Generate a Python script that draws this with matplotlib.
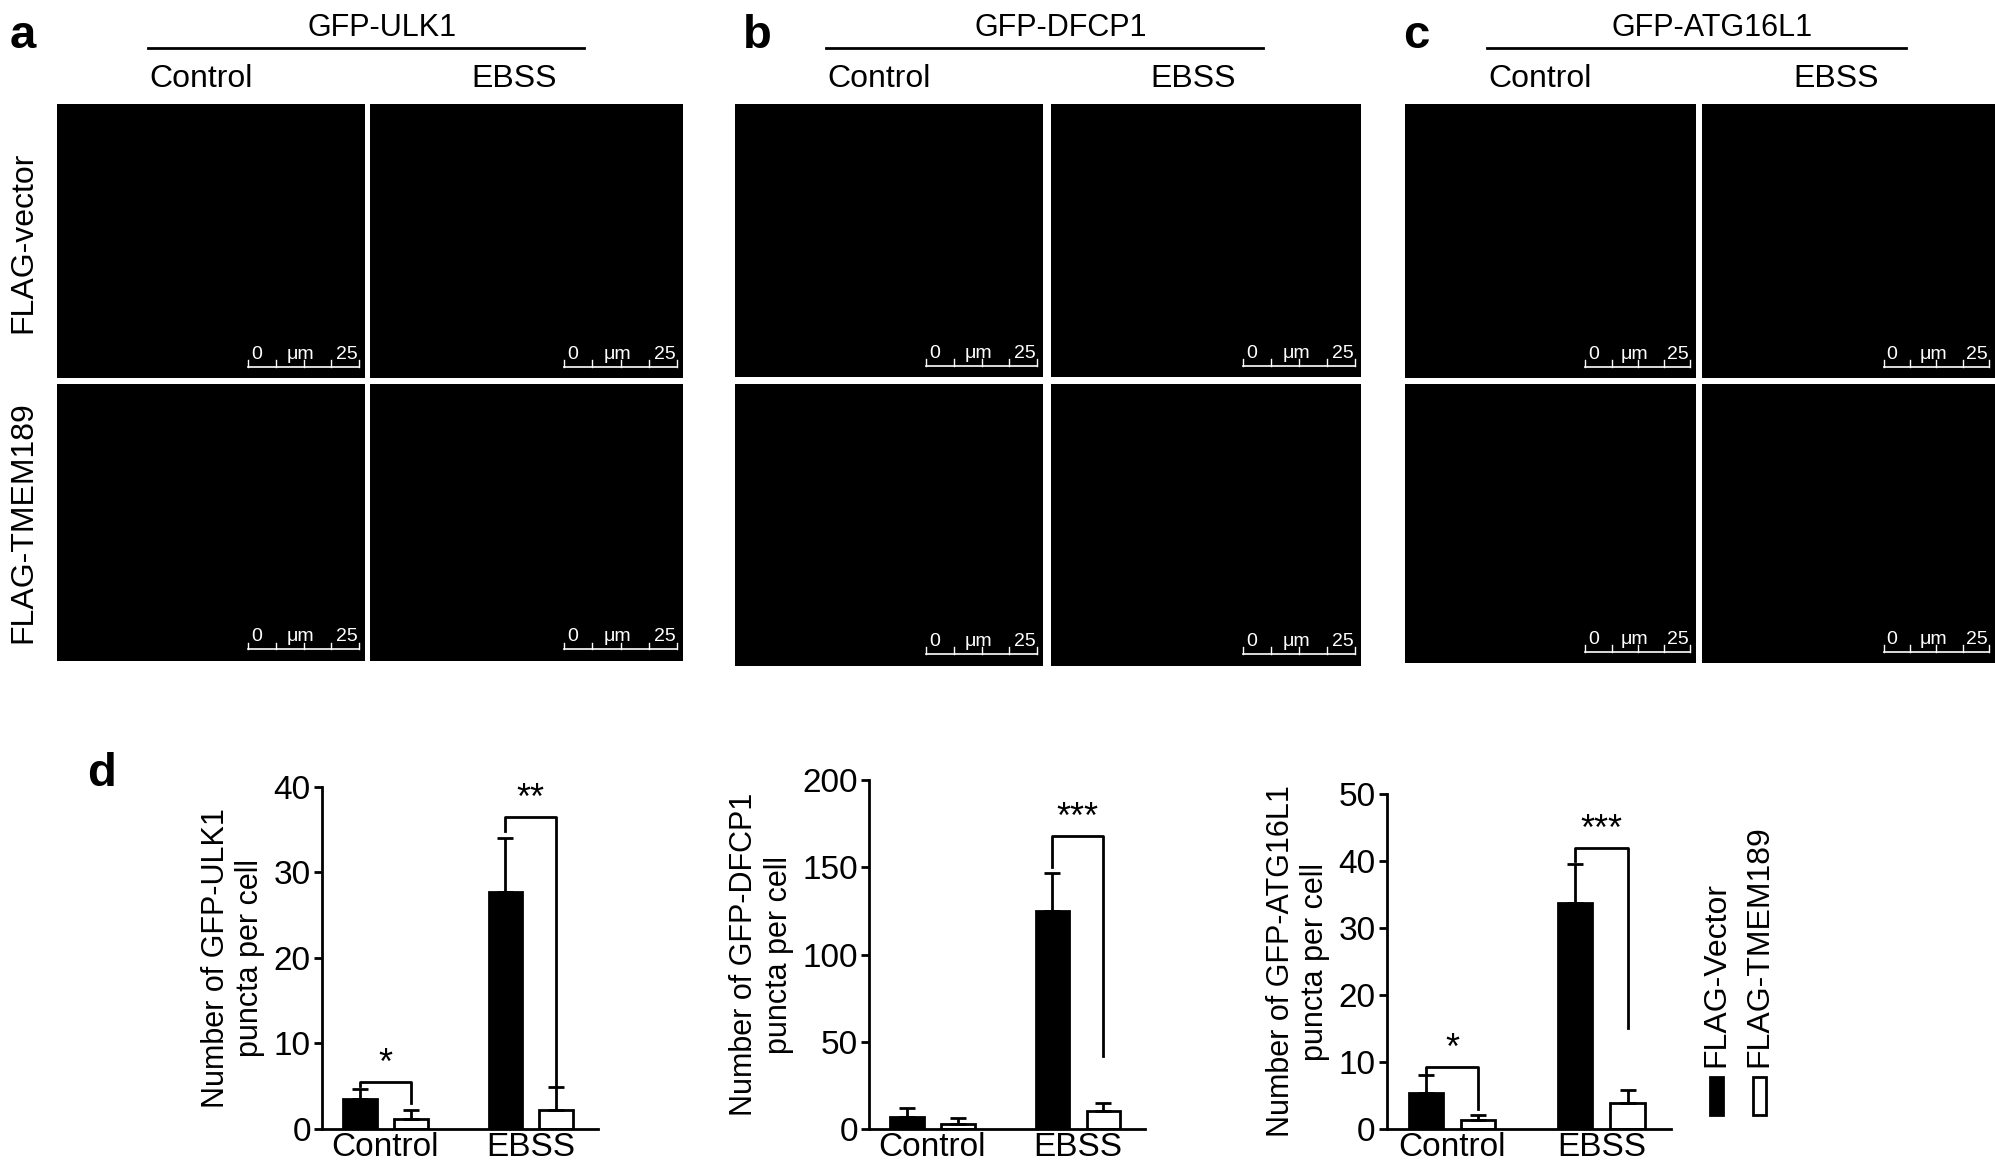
import matplotlib
matplotlib.use("Agg")
import matplotlib.pyplot as plt
from matplotlib.patches import Rectangle
import numpy as np

# data for panel d
groups = ["Control", "EBSS"]
ulk1_vec = [3.5, 27.7]
ulk1_vec_err = [1.2, 6.3]
ulk1_tm = [1.2, 2.2]
ulk1_tm_err = [1.0, 2.7]
dfcp1_vec = [7.0, 125.0]
dfcp1_vec_err = [5.0, 22.0]
dfcp1_tm = [3.0, 10.0]
dfcp1_tm_err = [3.0, 5.0]
atg_vec = [5.3, 33.8]
atg_vec_err = [2.7, 5.8]
atg_tm = [1.3, 3.8]
atg_tm_err = [0.8, 2.0]

W, H = 1568, 924  # layout reference units
fig = plt.figure(figsize=(19.95, 11.76), dpi=100)
plt.rcParams['font.family'] = ['Liberation Sans', 'DejaVu Sans']
narrow = ['Liberation Sans Narrow', 'Liberation Sans', 'DejaVu Sans']


def fx(x):
    return x / W


def fy(y):
    return 1 - y / H


def box(x0, y0, x1, y1):
    return [fx(x0), fy(y1), fx(x1 - x0), (y1 - y0) / H]


# microscopy panels (placeholders: black fields with scale bars)
panels = {
    "a": ([(45, 287), (291, 537)], [(82, 297), (302, 519)], "GFP-ULK1"),
    "b": ([(578, 820), (826, 1070)], [(82, 296), (302, 523)], "GFP-DFCP1"),
    "c": ([(1104, 1333), (1338, 1568)], [(82, 297), (302, 521)], "GFP-ATG16L1"),
}
letter_x = {"a": 18, "b": 595, "c": 1113}
for key, (cols, rows, title) in panels.items():
    for (x0, x1) in cols:
        for (y0, y1) in rows:
            ax = fig.add_axes(box(x0, y0, x1, y1))
            ax.set_facecolor("black")
            ax.set_xticks([]); ax.set_yticks([])
            for s in ax.spines.values():
                s.set_visible(False)
            # scale bar
            ax.plot([0.62, 0.98], [0.04, 0.04], color="white", lw=1.2, transform=ax.transAxes)
            for t in np.linspace(0.62, 0.98, 5):
                ax.plot([t, t], [0.04, 0.065], color="white", lw=1, transform=ax.transAxes)
            ax.text(0.63, 0.07, "0", color="white", fontsize=14, transform=ax.transAxes, family=narrow)
            ax.text(0.79, 0.07, "μm", color="white", fontsize=14, ha="center", transform=ax.transAxes, family=narrow)
            ax.text(0.975, 0.07, "25", color="white", fontsize=14, ha="right", transform=ax.transAxes, family=narrow)
    cx0 = (cols[0][0] + cols[0][1]) / 2
    cx1 = (cols[1][0] + cols[1][1]) / 2
    fig.text(fx((cx0 + cx1) / 2 + 10), fy(22), title, fontsize=22, ha="center", va="center")
    fig.add_artist(plt.Line2D([fx(cx0 - 50), fx(cx1 + 45)], [fy(38), fy(38)], color="black", lw=2))
    fig.text(fx(cx0 - 8), fy(62), "Control", fontsize=23, ha="center", va="center")
    fig.text(fx(cx1 - 10), fy(62), "EBSS", fontsize=23, ha="center", va="center")
    fig.text(fx(letter_x[key]), fy(28), key, fontsize=34, weight="bold", ha="center", va="center")

fig.text(fx(18), fy(190), "FLAG-vector", fontsize=23, rotation=90, ha="center", va="center")
fig.text(fx(18), fy(410), "FLAG-TMEM189", fontsize=23, rotation=90, ha="center", va="center")
fig.text(fx(80), fy(608), "d", fontsize=34, weight="bold", ha="center", va="center")

# bar charts
charts = [
    ((253, 470, 618), (0, 40, 10), ulk1_vec, ulk1_vec_err, ulk1_tm, ulk1_tm_err,
     "Number of GFP-ULK1\npuncta per cell", [("*", 5.5, 5.0, 3.0), ("**", 36.5, 34.8, 5.0)]),
    ((683, 900, 613), (0, 200, 50), dfcp1_vec, dfcp1_vec_err, dfcp1_tm, dfcp1_tm_err,
     "Number of GFP-DFCP1\npuncta per cell", [None, ("***", 168, 150, 42)]),
    ((1090, 1313, 624), (0, 50, 10), atg_vec, atg_vec_err, atg_tm, atg_tm_err,
     "Number of GFP-ATG16L1\npuncta per cell", [("*", 9.3, 8.4, 3.0), ("***", 42.0, 40.0, 15.0)]),
]
xpos = np.arange(len(groups))
off, bw = 0.175, 0.23
for (x0, x1, ytop), (ymin, ymax, step), v, ve, t, te, ylab, sigs in charts:
    ax = fig.add_axes(box(x0, ytop, x1, 887))
    ax.bar(xpos - off, v, bw, color="black", edgecolor="black", lw=2,
           yerr=[[0, 0], ve], error_kw=dict(ecolor="black", capsize=6, elinewidth=2, capthick=2))
    ax.bar(xpos + off, t, bw, color="white", edgecolor="black", lw=2,
           yerr=[[0, 0], te], error_kw=dict(ecolor="black", capsize=6, elinewidth=2, capthick=2))
    ax.set_xlim(-0.437, 1.463)
    ax.set_ylim(ymin, ymax)
    ax.set_yticks(np.arange(ymin, ymax + 1, step))
    ax.set_xticks(xpos)
    ax.set_xticklabels(groups, fontsize=24, family=narrow)
    ax.tick_params(axis="x", length=0, pad=2)
    ax.tick_params(axis="y", labelsize=24, width=2, length=6, pad=2)
    for lab in ax.get_yticklabels():
        lab.set_family(narrow)
    ax.spines["top"].set_visible(False)
    ax.spines["right"].set_visible(False)
    ax.spines["left"].set_linewidth(2)
    ax.spines["bottom"].set_linewidth(2)
    ax.set_ylabel(ylab, fontsize=22, labelpad=6)
    for i, sg in enumerate(sigs):
        if sg is None:
            continue
        star, top, lft, rgt = sg
        xl, xr = i - off, i + off
        ax.plot([xl, xl, xr, xr], [lft, top, top, rgt], color="black", lw=2, clip_on=False)
        ax.text(i, top, star, fontsize=26, ha="center", va="bottom")

# legend
fig.add_artist(Rectangle((fx(1344), fy(876)), fx(10), 30 / H, facecolor="black", edgecolor="black", lw=2))
fig.add_artist(Rectangle((fx(1378), fy(876)), fx(10), 30 / H, facecolor="white", edgecolor="black", lw=2))
fig.text(fx(1349), fy(838), "FLAG-Vector", fontsize=23, rotation=90, ha="center", va="bottom")
fig.text(fx(1383), fy(838), "FLAG-TMEM189", fontsize=23, rotation=90, ha="center", va="bottom")

fig.savefig("out.png", dpi=100, facecolor="white")
